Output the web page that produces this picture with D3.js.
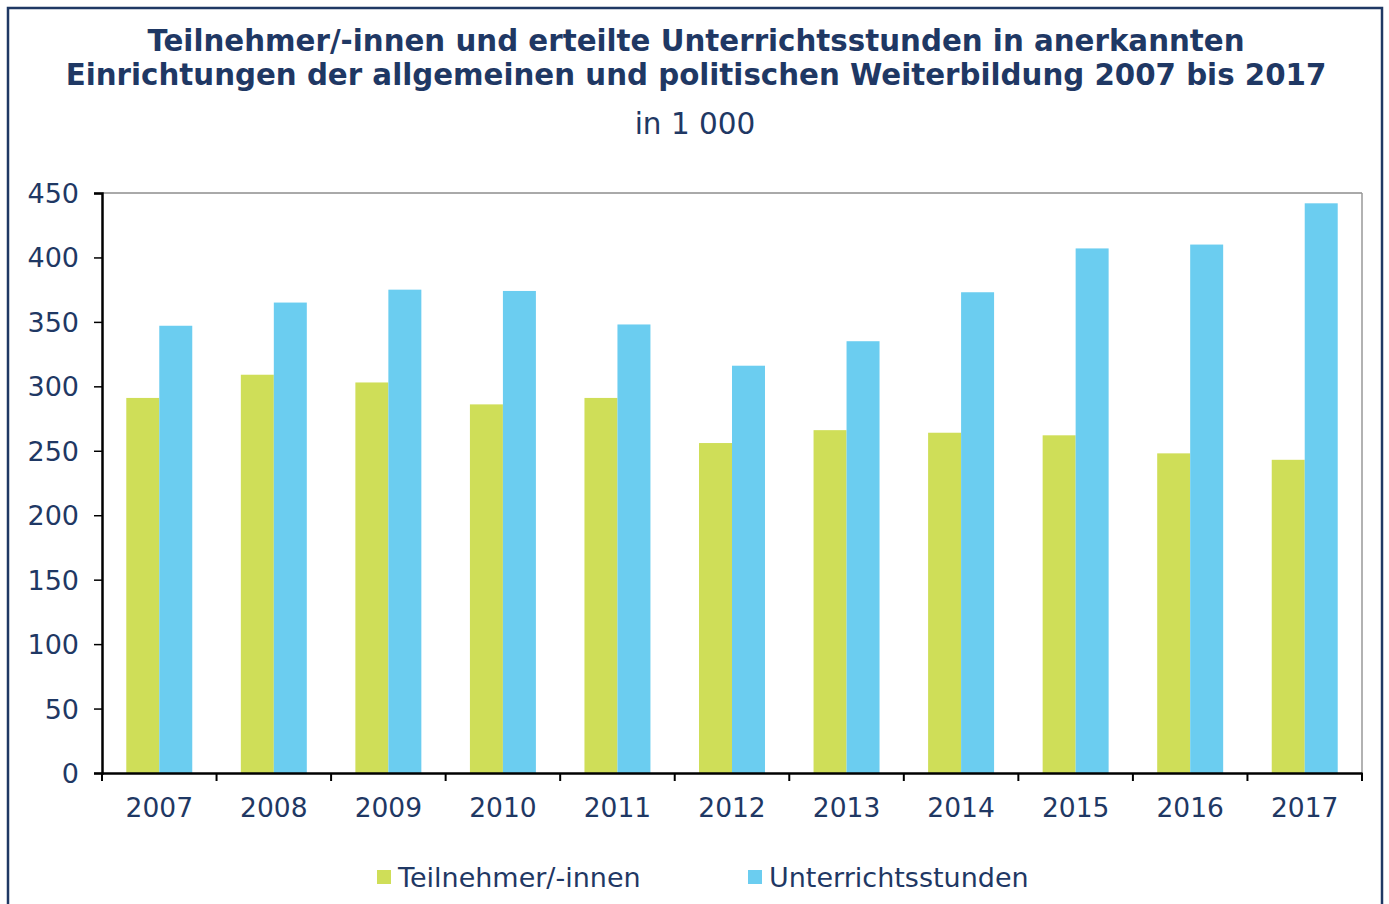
<!DOCTYPE html>
<html>
<head>
<meta charset="utf-8">
<script src="https://cdn.jsdelivr.net/npm/d3@7"></script>
<style>
  body { margin: 0; background: #fff; }
  text { font-family: "DejaVu Sans", Verdana, sans-serif; fill: #1f3864; }
</style>
</head>
<body>
<div id="chart"></div>
<script>
// Data (in 1 000)
const years = ['2007', '2008', '2009', '2010', '2011', '2012', '2013', '2014', '2015', '2016', '2017'];
const teilnehmer = [291, 309, 303, 286, 291, 256, 266, 264, 262, 248, 243];
const stunden = [347, 365, 375, 374, 348, 316, 335, 373, 407, 410, 442];
const seriesNames = ['Teilnehmer/-innen', 'Unterrichtsstunden'];
const yTicks = [0, 50, 100, 150, 200, 250, 300, 350, 400, 450];

const width = 1389;
const height = 904;
const margin = { top: 193, right: 27, bottom: 131, left: 102 };
const colors = ['#cfde58', '#6bcdf0'];

const svg = d3.select('#chart')
    .append('svg')
    .attr('width', width)
    .attr('height', height);

// outer frame
svg.append('rect')
    .attr('x', 8).attr('y', 8)
    .attr('width', 1374).attr('height', 920)
    .attr('fill', 'none')
    .attr('stroke', '#1f3864')
    .attr('stroke-width', 2.5);

// Titles
const title = svg.append('text')
    .attr('text-anchor', 'middle')
    .style('font-size', '29.3px')
    .style('font-weight', 'bold');
title.append('tspan').attr('x', 696).attr('y', 51).text('Teilnehmer/-innen und erteilte Unterrichtsstunden in anerkannten');
title.append('tspan').attr('x', 696).attr('y', 85).text('Einrichtungen der allgemeinen und politischen Weiterbildung 2007 bis 2017');

svg.append('text')
    .attr('x', 695).attr('y', 134)
    .attr('text-anchor', 'middle')
    .style('font-size', '29.5px')
    .text('in 1 000');

const plotW = width - margin.left - margin.right;
const plotH = height - margin.top - margin.bottom;

const x = d3.scaleBand()
    .domain(years)
    .range([margin.left, margin.left + plotW])
    .paddingInner(0.424)
    .paddingOuter(0.212);

const x1 = d3.scaleBand()
    .domain([0, 1])
    .range([0, x.bandwidth()]);

const y = d3.scaleLinear()
    .domain([0, 450])
    .range([margin.top + plotH, margin.top]);

// plot frame (top + right)
svg.append('line')
    .attr('x1', margin.left).attr('x2', margin.left + plotW)
    .attr('y1', y(450)).attr('y2', y(450))
    .attr('stroke', '#555').attr('stroke-width', 1);
svg.append('line')
    .attr('x1', margin.left + plotW).attr('x2', margin.left + plotW)
    .attr('y1', y(450)).attr('y2', y(0))
    .attr('stroke', '#999').attr('stroke-width', 1.5);

// bars
const groups = svg.selectAll('.grp')
    .data(years)
    .enter()
    .append('g')
    .attr('transform', d => `translate(${x(d)},0)`);

[teilnehmer, stunden].forEach((vals, s) => {
    groups.append('rect')
        .attr('x', x1(s))
        .attr('width', x1.bandwidth())
        .attr('y', (d, i) => y(vals[i]))
        .attr('height', (d, i) => y(0) - y(vals[i]))
        .attr('fill', colors[s]);
});

// y axis
const yAxis = svg.append('g')
    .attr('transform', `translate(${margin.left},0)`)
    .call(d3.axisLeft(y).tickValues(yTicks).tickSize(8).tickPadding(15));
yAxis.select('.domain').attr('stroke', '#000').attr('stroke-width', 2.5);
yAxis.selectAll('.tick line').attr('stroke', '#000').attr('stroke-width', 1.5);
yAxis.selectAll('.tick text')
    .style('font-size', '27px')
    .attr('fill', '#1f3864')
    .attr('dy', '0.35em');

// x axis
const xAxis = svg.append('g')
    .attr('transform', `translate(0,${y(0)})`)
    .call(d3.axisBottom(x).tickSize(0).tickPadding(25));
xAxis.select('.domain').attr('stroke', '#000').attr('stroke-width', 2.5);
xAxis.selectAll('.tick text')
    .style('font-size', '26.5px')
    .attr('fill', '#1f3864');

// category boundary ticks
const step = x.step();
svg.append('g')
    .selectAll('line')
    .data(d3.range(years.length + 1))
    .enter()
    .append('line')
    .attr('x1', i => margin.left + i * step)
    .attr('x2', i => margin.left + i * step)
    .attr('y1', y(0))
    .attr('y2', y(0) + 8)
    .attr('stroke', '#000')
    .attr('stroke-width', 2);

// legend
const legendX = [377, 748];
seriesNames.forEach((name, i) => {
    const g = svg.append('g').attr('transform', `translate(${legendX[i]}, 870)`);
    g.append('rect')
        .attr('width', 14).attr('height', 14)
        .attr('fill', colors[i]);
    g.append('text')
        .attr('x', 21).attr('y', 17)
        .style('font-size', '27px')
        .text(name);
});
</script>
</body>
</html>
